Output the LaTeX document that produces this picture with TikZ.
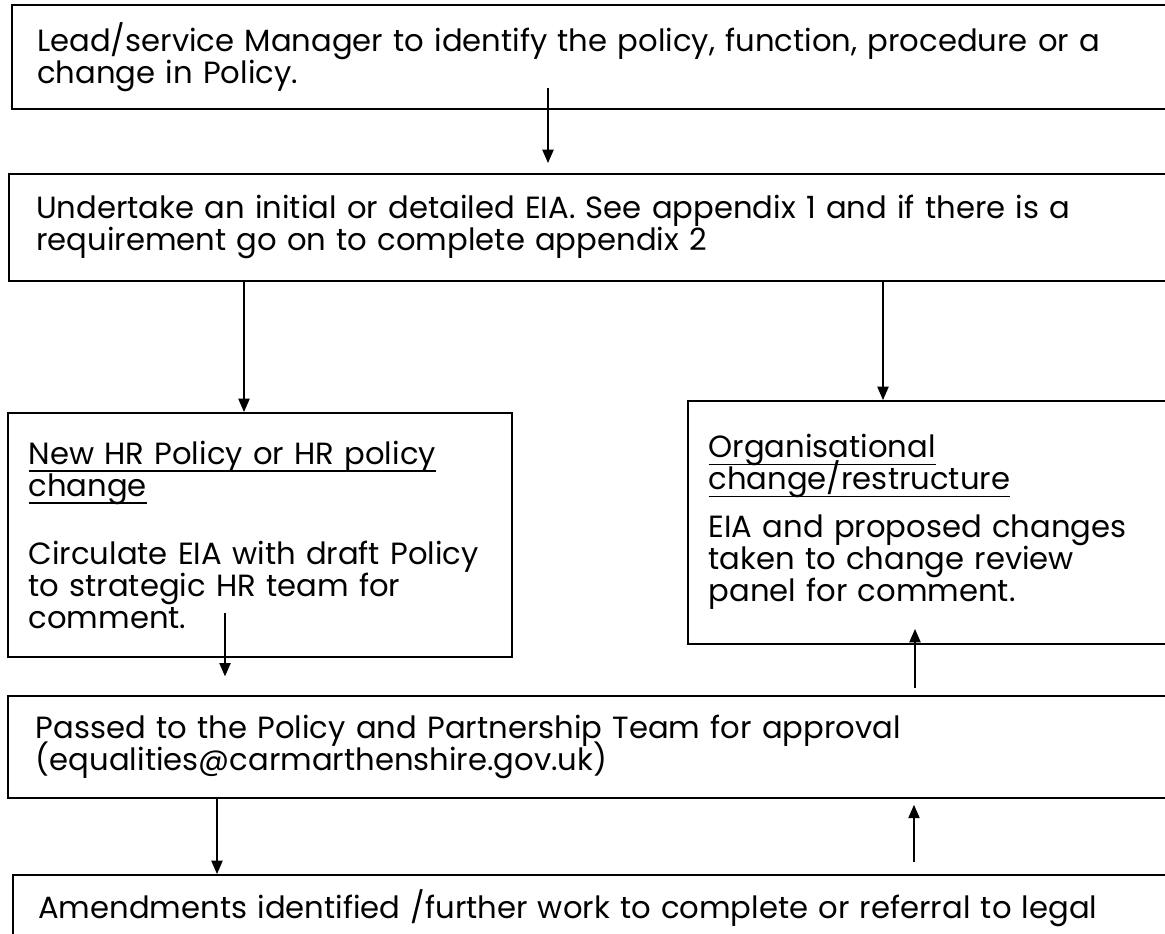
\documentclass[tikz,border=0pt]{standalone}
\usepackage{fontspec}
\setmainfont{Poppins}
\usetikzlibrary{arrows.meta,calc}
\newsavebox{\ulbox}
\newcommand{\ulined}[1]{\leavevmode\sbox{\ulbox}{#1}\rlap{\smash{\rule[-5.5pt]{\wd\ulbox}{1.1pt}}}\usebox{\ulbox}}
\newcommand{\boxfont}{\fontsize{23}{24}\selectfont\lineskiplimit=-100pt}

\begin{document}
\begin{tikzpicture}[x=0.75pt,y=-0.75pt,
	>={Triangle[length=10pt,width=8.5pt]},
	stepbox/.style={draw,line width=1.4pt,anchor=north west,align=left,inner ysep=0pt,inner xsep=19pt,font=\boxfont},
	wide/.style={text width=850pt},
	narrow/.style={inner xsep=15.5pt,text width=347pt},
	link/.style={line width=0.9pt}]
				\clip (0,0) rectangle (1165,934);
				\node[stepbox,wide,minimum height=78pt] (lead) at (11,4) {Lead/service Manager to identify the policy, function, procedure or a\\change in Policy.};
				\node[stepbox,wide,minimum height=80pt,inner xsep=20.5pt] (undertake) at (8,173) {Undertake an initial or detailed EIA. See appendix 1 and if there is a\\requirement go on to complete appendix 2};
				\node[stepbox,narrow,minimum height=183pt] (hrpolicy) at (7,412) {\ulined{New HR Policy or HR policy}\\\ulined{change}\\[27pt]Circulate EIA with draft Policy\\to strategic HR team for\\comment.};
				\node[stepbox,narrow,text width=500pt,minimum height=182pt] (orgchange) at (687,400) {\ulined{Organisational}\\\ulined{change/restructure}\\[12pt]EIA and proposed changes\\taken to change review\\panel for comment.\\[14pt]};
				\node[stepbox,wide,minimum height=76.5pt,inner xsep=21pt] (passed) at (7,695) {Passed to the Policy and Partnership Team for approval\\(equalities@carmarthenshire.gov.uk)};
				\node[stepbox,wide,minimum height=50pt] (amend) at (12,874) {Amendments identified /further work to complete or referral to legal};
				\coordinate (s1) at (548,88);
				\coordinate (s4) at (225,613);
				\coordinate (t5) at (915,629);
				\draw[link,->,shorten >=7.5pt] (s1) to (s1 |- undertake.north);
				\draw[link,->] ($(undertake.south west)+(236,0)$) to ($(hrpolicy.north west)+(237,0)$);
				\draw[link,->] ($(undertake.south west)+(875,0)$) to ($(orgchange.north west)+(196,0)$);
				\draw[link,->,shorten >=14pt] (s4) to (s4 |- passed.north);
				\draw[link,->,shorten <=5pt] (t5 |- passed.north) to (t5);
				\draw[link,->] ($(passed.south west)+(210,0)$) to ($(amend.north west)+(205,0)$);
				\draw[link,->,shorten <=9pt,shorten >=4.5pt] ($(amend.north west)+(902,0)$) to ($(passed.south west)+(907,0)$);
			\end{tikzpicture}
\end{document}
